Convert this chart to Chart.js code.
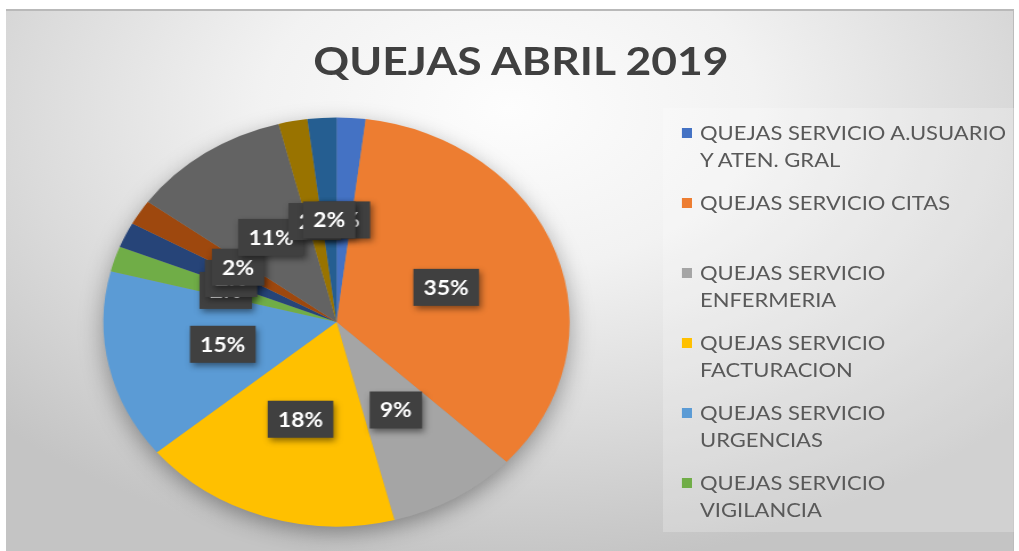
<!DOCTYPE html>
<html>
<head>
<meta charset="utf-8">
<script src="https://cdn.jsdelivr.net/npm/chart.js@4.4.1/dist/chart.umd.min.js"></script>
<style>
  html, body { margin:0; padding:0; }
  body { width:1019px; height:551px; position:relative; overflow:hidden; background:#ffffff; font-family: Lato, "Open Sans", sans-serif; }
  #frame { position:absolute; left:6px; top:9px; width:1008px; height:542px;
    background: radial-gradient(ellipse 70% 85% at 50% 18%, #fdfdfd 0%, #f2f2f2 35%, #dadada 70%, #c4c4c4 100%);
    border-top:2px solid #b9b9b9; border-right:1px solid #bcbcbc; box-sizing:border-box; }
  #legendbox { position:absolute; left:663px; top:108px; width:351px; height:424px; background:rgba(255,255,255,0.22); }
  #wrap { position:absolute; left:0; top:0; width:894px; height:551px; transform:scaleX(1.14); transform-origin:0 0; }
  #c { position:absolute; left:0; top:0; }
  #title { position:absolute; left:0; top:40px; width:914px; text-align:center; font:bold 39px/40px Lato, sans-serif; color:#404040; white-space:nowrap; }
  #legend { position:absolute; left:598px; top:119px; }
  .item { position:relative; height:70px; }
  .mk { position:absolute; left:0; top:9px; width:8.8px; height:10px; }
  .tx { position:absolute; left:16px; top:0; font:19.3px/27px Lato, sans-serif; color:#595959; white-space:nowrap; }
</style>
</head>
<body>
<div id="frame"></div>
<div id="legendbox"></div>
<div id="wrap">
  <canvas id="c" width="894" height="551"></canvas>
  <div id="title"></div>
  <div id="legend"></div>
</div>
<script>
const chartTitle = "QUEJAS ABRIL 2019";
const categories = [
  ["QUEJAS SERVICIO A.USUARIO", "Y ATEN. GRAL"],
  ["QUEJAS SERVICIO CITAS"],
  ["QUEJAS SERVICIO", "ENFERMERIA"],
  ["QUEJAS SERVICIO", "FACTURACION"],
  ["QUEJAS SERVICIO", "URGENCIAS"],
  ["QUEJAS SERVICIO", "VIGILANCIA"],
  [""], [""], [""], [""], [""]
];
const values = [2, 35, 9, 18, 15, 2, 2, 2, 11, 2, 2];
const colors = ["#4472C4", "#ED7D31", "#A5A5A5", "#FFC000", "#5B9BD5", "#70AD47",
                "#264478", "#9E480E", "#636363", "#997300", "#255E91"];
const legendCount = 6;

document.getElementById('title').textContent = chartTitle;
const lg = document.getElementById('legend');
for (let i = 0; i < legendCount; i++) {
  const it = document.createElement('div'); it.className = 'item';
  const mk = document.createElement('div'); mk.className = 'mk'; mk.style.background = colors[i];
  const tx = document.createElement('div'); tx.className = 'tx';
  categories[i].forEach((line, j) => { if (j) tx.appendChild(document.createElement('br')); tx.appendChild(document.createTextNode(line)); });
  it.appendChild(mk); it.appendChild(tx); lg.appendChild(it);
}

const shadowPlugin = {
  id: 'pieShadow',
  beforeDatasetsDraw(chart) {
    const arc = chart.getDatasetMeta(0).data[0];
    if (!arc) return;
    const ctx = chart.ctx;
    ctx.save();
    ctx.shadowColor = 'rgba(0,0,0,0.38)';
    ctx.shadowBlur = 22;
    ctx.shadowOffsetY = 7;
    ctx.fillStyle = '#999';
    ctx.beginPath();
    ctx.arc(arc.x, arc.y, arc.outerRadius - 1, 0, Math.PI * 2);
    ctx.fill();
    ctx.restore();
  }
};

const labelPlugin = {
  id: 'boxLabels',
  afterDatasetsDraw(chart) {
    const ctx = chart.ctx;
    const meta = chart.getDatasetMeta(0);
    const data = chart.data.datasets[0].data;
    const total = data.reduce((a, b) => a + b, 0);
    ctx.save();
    ctx.font = 'bold 20px Lato, sans-serif';
    ctx.textAlign = 'center';
    ctx.textBaseline = 'middle';
    meta.data.forEach((arc, i) => {
      const p = arc.getCenterPoint();
      const t = Math.round(data[i] / total * 100) + '%';
      const w = ctx.measureText(t).width + 18;
      const h = 37;
      ctx.save();
      ctx.shadowColor = 'rgba(0,0,0,0.45)';
      ctx.shadowBlur = 6;
      ctx.shadowOffsetX = 2;
      ctx.shadowOffsetY = 3;
      ctx.fillStyle = '#404040';
      ctx.fillRect(p.x - w / 2, p.y - h / 2, w, h);
      ctx.restore();
      ctx.fillStyle = '#ffffff';
      ctx.fillText(t, p.x, p.y + 1);
    });
    ctx.restore();
  }
};

new Chart(document.getElementById('c'), {
  type: 'pie',
  data: {
    labels: categories,
    datasets: [{ data: values, backgroundColor: colors, borderWidth: 0 }]
  },
  options: {
    responsive: false,
    animation: false,
    layout: { padding: { left: 90.7, right: 394.3, top: 117.5, bottom: 24.5 } },
    plugins: { legend: { display: false }, title: { display: false }, tooltip: { enabled: false } }
  },
  plugins: [shadowPlugin, labelPlugin]
});
</script>
</body>
</html>
